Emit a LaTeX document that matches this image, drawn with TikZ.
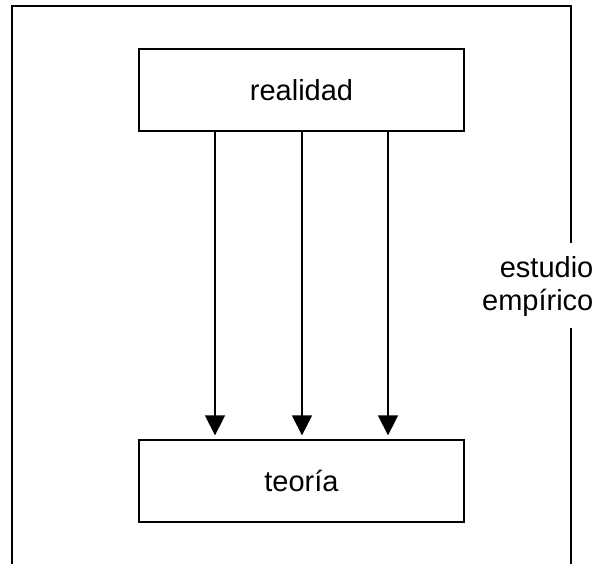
\documentclass[tikz,border=0pt]{standalone}
\usepackage{fontspec}
\setmainfont{Liberation Sans}
\usetikzlibrary{arrows.meta}

\begin{document}
\begin{tikzpicture}[x=1pt,y=-1pt,line width=1.3pt,
    caja/.style={draw,minimum width=325pt,minimum height=82pt,inner sep=0pt,font=\fontsize{29}{33}\selectfont},
    flecha/.style={-{Triangle[width=20pt,length=20pt]},shorten >=4pt}]
  \useasboundingbox (0,0) rectangle (604,563);
  % cajas
  \node[caja] (realidad) at (301.5,90) {realidad};
  \node[caja] (teoria) at (301.5,481) {teoría};
  % marco del estudio
  \coordinate (marco-bl) at (12,566);
  \coordinate (marco-tl) at (12,6);
  \coordinate (marco-tr) at (571,6);
  \coordinate (corte-a) at (571,243);
  \coordinate (corte-b) at (571,328);
  \coordinate (marco-br) at (571,566);
  \draw (marco-bl) -- (marco-tl) -- (marco-tr) -- (corte-a);
  \draw (corte-b) -- (marco-br);
  \node[anchor=east,align=right,inner sep=0pt,font=\fontsize{29}{33}\selectfont] (estudio) at (594,286) {estudio\\empírico};
  % flechas
  \foreach \dx in {-86.5,0.5,86.5}
    \draw[flecha] ([xshift=\dx pt]realidad.south) -- ([xshift=\dx pt]teoria.north);
\end{tikzpicture}
\end{document}
